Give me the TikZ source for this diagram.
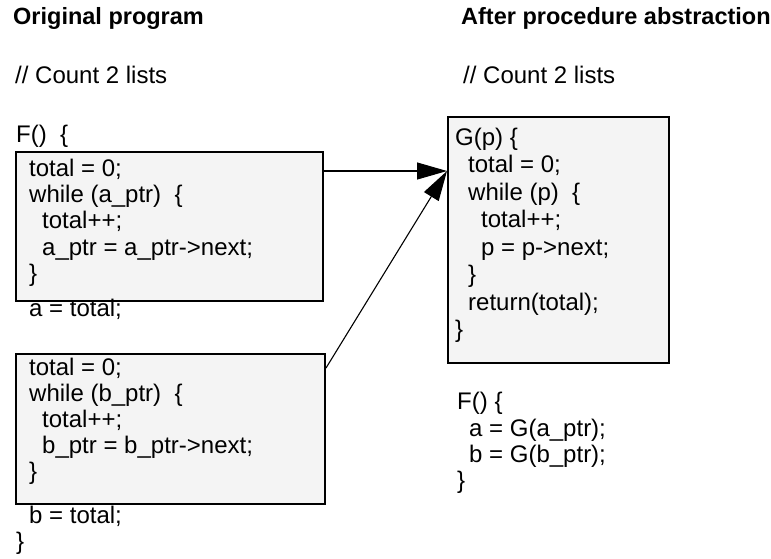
\documentclass[tikz,border=0pt]{standalone}
\usepackage{fontspec}
\setmainfont{Liberation Sans}
\usetikzlibrary{arrows.meta}
\definecolor{boxfill}{RGB}{244,244,244}
\begin{document}
\begin{tikzpicture}[x=1pt,y=-1pt,
  code/.style={anchor=base west, inner sep=0pt, font=\fontsize{24}{27}\selectfont},
  heading/.style={anchor=base west, inner sep=0pt, font=\fontsize{23.5}{27}\selectfont\bfseries},
  codebox/.style={draw, line width=2pt, fill=boxfill, anchor=north west, inner sep=0pt},
  link/.style={line width=1.1pt, -{Triangle[length=30pt,width=17pt]}}]
\useasboundingbox (0,0) rectangle (771,558);
% boxes
\node[codebox, minimum width=307pt, minimum height=149pt] (box1) at (15,151) {};
\node[codebox, minimum width=309pt, minimum height=150pt] (box2) at (15,353) {};
\node[codebox, minimum width=221pt, minimum height=246pt] (gbox) at (447,116) {};
% left column
\node[heading] (t1) at (13,24) {Original program};
\node[code] (c1) at (15,83) {// Count 2 lists};
\node[code] (l0) at (16,142) {F()~~\{};
\node[code] (l1) at (29,176) {total = 0;};
\node[code] (l2) at (29,202) {while (a\_ptr)~~\{};
\node[code] (l3) at (42,228.5) {total++;};
\node[code] (l4) at (42,255) {a\_ptr = a\_ptr->next;};
\node[code] (l5) at (29,281) {\}};
\node[code] (l6) at (29,316) {a = total;};
\node[code] (m1) at (29,375) {total = 0;};
\node[code] (m2) at (29,401) {while (b\_ptr)~~\{};
\node[code] (m3) at (42,427) {total++;};
\node[code] (m4) at (42,453) {b\_ptr = b\_ptr->next;};
\node[code] (m5) at (29,479) {\}};
\node[code] (m6) at (29,523) {b = total;};
\node[code] (m7) at (16,549) {\}};
% right column
\node[heading] (t2) at (461,24) {After procedure abstraction};
\node[code] (c2) at (463,83) {// Count 2 lists};
\node[code] (g0) at (455,145) {G(p) \{};
\node[code] (g1) at (468,172.5) {total = 0;};
\node[code] (g2) at (468,200) {while (p)~~\{};
\node[code] (g3) at (481,227.5) {total++;};
\node[code] (g4) at (481,255) {p = p->next;};
\node[code] (g5) at (468,282.5) {\}};
\node[code] (g6) at (468,310) {return(total);};
\node[code] (g7) at (455,337.5) {\}};
\node[code] (f0) at (457,409) {F() \{};
\node[code] (f1) at (469,436) {a = G(a\_ptr);};
\node[code] (f2) at (469,462) {b = G(b\_ptr);};
\node[code] (f3) at (457,488) {\}};
% connectors
\coordinate (tip) at ([yshift=-55pt]gbox.north west);
\draw[link] (box1.east |- tip) -- (tip);
\draw[link] ([yshift=-15pt]box2.north east) -- (tip);
\end{tikzpicture}
\end{document}
